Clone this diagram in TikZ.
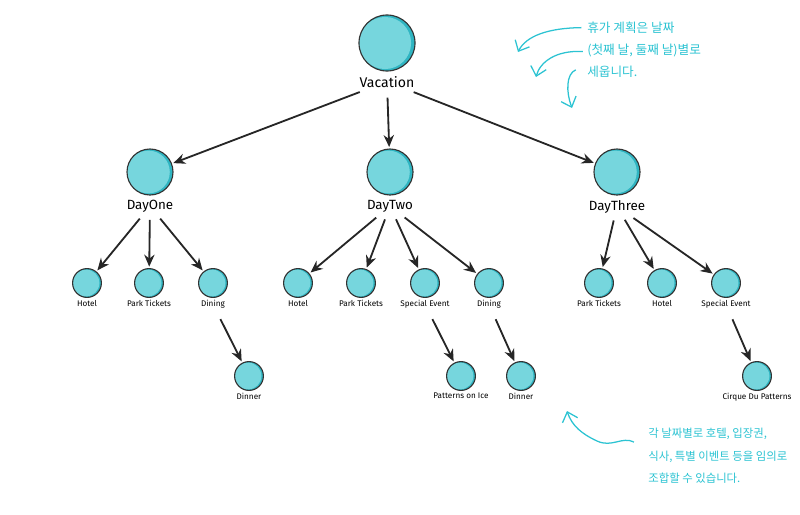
\documentclass[tikz,border=0pt]{standalone}
\usepackage{fontspec}
\setmainfont{Fira Sans}
\newfontfamily\kor{Noto Sans CJK KR}
\usetikzlibrary{positioning,arrows.meta}

\definecolor{balllight}{HTML}{76D6DD}
\definecolor{balldark}{HTML}{2FB5C2}
\definecolor{notecyan}{HTML}{2CC3D2}

\begin{document}
\begin{tikzpicture}
[
	x=0.025cm, y=-0.025cm,
	ball/.style={circle,draw=black!80,line width=0.8pt,inner sep=0pt,minimum size=#1,fill=balldark,
		path picture={\fill[balllight] ([xshift=-0.035*#1]path picture bounding box.center) circle (0.465*#1);}},
	rootball/.style={ball=1.4cm},
	dayball/.style={ball=1.15cm},
	itemball/.style={ball=0.72cm},
	rootlbl/.style={inner sep=1pt,font=\fontsize{10}{12}\selectfont},
	daylbl/.style={inner sep=1pt,font=\fontsize{9.5}{11}\selectfont},
	itemlbl/.style={inner sep=1pt,font=\fontsize{5.8}{7}\selectfont},
	link/.style={-{Stealth[length=3mm,width=2.6mm]},line width=1.3pt,black!85,shorten >=1pt},
	note/.style={notecyan,align=left,inner sep=0pt},
	notearr/.style={notecyan,line width=0.9pt,-{Straight Barb[length=2.2mm,width=4mm]}}
]

	\useasboundingbox (0,0) rectangle (800,514);

	% root and days
	\node[rootball] at (387,43) (vac) {};
	\node[rootlbl,below=2pt of vac] (vacL) {Vacation};

	\node[dayball] at (150,172) (d1) {};
	\node[daylbl,below=2pt of d1] (d1L) {DayOne};
	\node[dayball] at (390,172) (d2) {};
	\node[daylbl,below=2pt of d2] (d2L) {DayTwo};
	\node[dayball] at (617,172) (d3) {};
	\node[daylbl,below=2pt of d3] (d3L) {DayThree};

	% day one
	\node[itemball] at (87,283) (d1hotel) {};
	\node[itemlbl,below=0.5pt of d1hotel] (d1hotelL) {Hotel};
	\node[itemball] at (149,283) (d1park) {};
	\node[itemlbl,below=0.5pt of d1park] (d1parkL) {Park Tickets};
	\node[itemball] at (213,283) (d1dining) {};
	\node[itemlbl,below=0.5pt of d1dining] (d1diningL) {Dining};
	\node[itemball] at (249,376) (d1dinner) {};
	\node[itemlbl,below=0.5pt of d1dinner] (d1dinnerL) {Dinner};

	% day two
	\node[itemball] at (298,283) (d2hotel) {};
	\node[itemlbl,below=0.5pt of d2hotel] (d2hotelL) {Hotel};
	\node[itemball] at (361,283) (d2park) {};
	\node[itemlbl,below=0.5pt of d2park] (d2parkL) {Park Tickets};
	\node[itemball] at (425,283) (d2event) {};
	\node[itemlbl,below=0.5pt of d2event] (d2eventL) {Special Event};
	\node[itemball] at (489,283) (d2dining) {};
	\node[itemlbl,below=0.5pt of d2dining] (d2diningL) {Dining};
	\node[itemball] at (461,376) (d2ice) {};
	\node[itemlbl,below=0.5pt of d2ice] (d2iceL) {Patterns on Ice};
	\node[itemball] at (521,376) (d2dinner) {};
	\node[itemlbl,below=0.5pt of d2dinner] (d2dinnerL) {Dinner};

	% day three
	\node[itemball] at (599,283) (d3park) {};
	\node[itemlbl,below=0.5pt of d3park] (d3parkL) {Park Tickets};
	\node[itemball] at (662,283) (d3hotel) {};
	\node[itemlbl,below=0.5pt of d3hotel] (d3hotelL) {Hotel};
	\node[itemball] at (726,283) (d3event) {};
	\node[itemlbl,below=0.5pt of d3event] (d3eventL) {Special Event};
	\node[itemball] at (757,376) (d3cirque) {};
	\node[itemlbl,below=0.5pt of d3cirque] (d3cirqueL) {Cirque Du Patterns};

	% arrows
	\draw[link,shorten <=2.2mm] (vacL) -- (d1);
	\draw[link,shorten <=2.2mm] (vacL) -- (d2);
	\draw[link,shorten <=2.2mm] (vacL) -- (d3);

	\draw[link,shorten <=1.5mm] (d1L) -- (d1hotel);
	\draw[link,shorten <=1.5mm] (d1L) -- (d1park);
	\draw[link,shorten <=1.5mm] (d1L) -- (d1dining);
	\draw[link,shorten <=2.5mm] (d1diningL) -- (d1dinner);

	\draw[link,shorten <=1.5mm] (d2L) -- (d2hotel);
	\draw[link,shorten <=1.5mm] (d2L) -- (d2park);
	\draw[link,shorten <=1.5mm] (d2L) -- (d2event);
	\draw[link,shorten <=1.5mm] (d2L) -- (d2dining);
	\draw[link,shorten <=2.5mm] (d2eventL) -- (d2ice);
	\draw[link,shorten <=2.5mm] (d2diningL) -- (d2dinner);

	\draw[link,shorten <=1.5mm] (d3L) -- (d3park);
	\draw[link,shorten <=1.5mm] (d3L) -- (d3hotel);
	\draw[link,shorten <=1.5mm] (d3L) -- (d3event);
	\draw[link,shorten <=2.5mm] (d3eventL) -- (d3cirque);

	% notes
	\node[note,anchor=north west,font=\kor\fontsize{9}{15.6}\selectfont] at (587,22) (planNote)
		{휴가 계획은 날짜\\(첫째 날, 둘째 날)별로\\세웁니다.};
	\coordinate (planTipA) at (518,52);
	\coordinate (planTipB) at (536,77);
	\coordinate (planTipC) at (572,108);
	\draw[notearr] ([xshift=-4pt,yshift=-4pt]planNote.north west) .. controls (548,28) and (526,36) .. (planTipA);
	\draw[notearr] ([xshift=-3pt,yshift=-21pt]planNote.north west) .. controls (556,50) and (540,62) .. (planTipB);
	\draw[notearr] ([xshift=-8pt,yshift=-34pt]planNote.north west) .. controls (566,74) and (566,92) .. (planTipC);

	\node[note,anchor=north west,font=\kor\fontsize{8.1}{16}\selectfont] at (648,428) (mixNote)
		{각 날짜별로 호텔, 입장권,\\식사, 특별 이벤트 등을 임의로\\조합할 수 있습니다.};
	\coordinate (mixTip) at (567,411);
	\draw[notearr] ([xshift=-10pt,yshift=-10pt]mixNote.north west) .. controls (622,436) and (612,448) .. (597,441)
		.. controls (582,434) and (572,426) .. (mixTip);

\end{tikzpicture}
\end{document}
